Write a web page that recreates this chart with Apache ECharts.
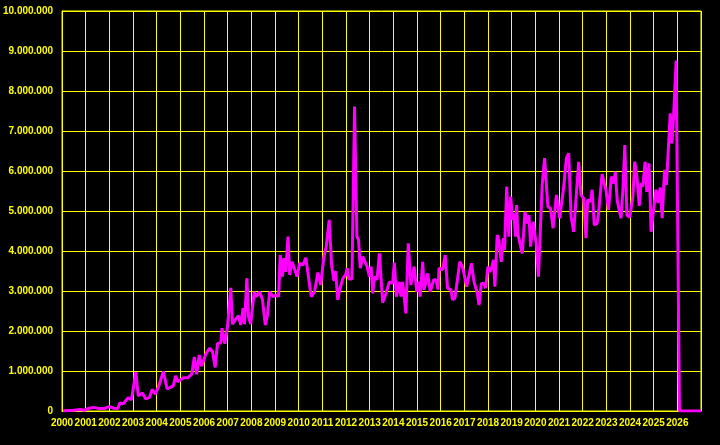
<!DOCTYPE html>
<html>
<head>
<meta charset="utf-8">
<script src="https://cdn.jsdelivr.net/npm/echarts@6/dist/echarts.min.js"></script>
<style>
html,body{margin:0;padding:0;background:#000;}
#c{width:720px;height:445px;}
</style>
</head>
<body>
<div id="c"></div>
<script>
// Time in decimal years
var years = [
2000.04,2000.21,2000.51,2000.76,2000.97,2001.14,2001.35,2001.56,2001.77,2001.98,
2002.19,2002.36,2002.44,2002.59,2002.78,2002.93,2003.12,2003.22,2003.39,2003.54,
2003.69,2003.81,2003.94,2004.09,2004.28,2004.44,2004.70,2004.80,2004.89,2005.13,
2005.31,2005.48,2005.59,2005.69,2005.80,2005.90,2006.07,2006.23,2006.36,2006.47,
2006.57,2006.71,2006.76,2006.88,2006.99,2007.13,2007.20,2007.37,2007.46,2007.55,
2007.65,2007.71,2007.81,2007.88,2007.97,2008.12,2008.21,2008.35,2008.47,2008.59,
2008.68,2008.77,2008.92,2009.06,2009.15,2009.22,2009.31,2009.38,2009.45,2009.55,
2009.62,2009.72,2009.80,2009.93,2010.04,2010.18,2010.30,2010.38,2010.53,2010.67,
2010.81,2010.93,2011.06,2011.16,2011.29,2011.39,2011.49,2011.56,2011.65,2011.74,
2011.87,2011.98,2012.05,2012.12,2012.25,2012.36,2012.46,2012.53,2012.60,2012.71,
2012.78,2012.89,2012.99,2013.06,2013.13,2013.20,2013.31,2013.41,2013.55,2013.69,
2013.83,2013.97,2014.04,2014.13,2014.25,2014.32,2014.39,2014.53,2014.63,2014.74,
2014.88,2014.99,2015.09,2015.13,2015.24,2015.30,2015.45,2015.56,2015.70,2015.80,
2015.89,2015.93,2016.08,2016.19,2016.29,2016.43,2016.50,2016.60,2016.68,2016.81,
2016.92,2016.99,2017.10,2017.20,2017.30,2017.41,2017.55,2017.62,2017.72,2017.83,
2017.90,2018.00,2018.08,2018.15,2018.23,2018.29,2018.39,2018.46,2018.56,2018.65,
2018.70,2018.79,2018.88,2018.96,2019.03,2019.09,2019.17,2019.21,2019.26,2019.35,
2019.45,2019.56,2019.66,2019.73,2019.80,2019.91,2019.97,2020.05,2020.13,2020.29,
2020.39,2020.53,2020.64,2020.75,2020.89,2021.03,2021.20,2021.31,2021.41,2021.51,
2021.62,2021.76,2021.83,2021.93,2022.04,2022.14,2022.21,2022.33,2022.40,2022.49,
2022.61,2022.67,2022.75,2022.82,2022.89,2022.99,2023.09,2023.21,2023.31,2023.38,
2023.46,2023.52,2023.62,2023.70,2023.78,2023.87,2023.99,2024.05,2024.12,2024.20,
2024.29,2024.39,2024.47,2024.54,2024.64,2024.71,2024.80,2024.85,2024.89,2024.99,
2025.10,2025.18,2025.28,2025.36,2025.46,2025.54,2025.61,2025.70,2025.77,2025.84,
2025.95,2026.09,2027.00
];
var values = [
0,10000,20000,40000,20000,70000,90000,60000,60000,110000,
70000,60000,200000,180000,330000,280000,970000,380000,450000,300000,
340000,540000,420000,630000,990000,550000,630000,880000,730000,830000,
830000,920000,1350000,920000,1400000,1120000,1420000,1570000,1480000,1090000,
1690000,1700000,2070000,1680000,2100000,3080000,2170000,2320000,2380000,2150000,
2570000,2170000,3320000,2360000,2170000,2980000,2860000,2980000,2780000,2150000,
2400000,2980000,2860000,2900000,2860000,3900000,3360000,3820000,3480000,4360000,
3400000,3730000,3780000,3360000,3690000,3650000,3830000,3790000,2860000,2980000,
3460000,3150000,3840000,4100000,4780000,3650000,3250000,3500000,2780000,3050000,
3320000,3400000,3570000,3300000,3300000,7610000,4360000,4280000,3570000,3860000,
3900000,3610000,3360000,3610000,2940000,3360000,3280000,3940000,2710000,2940000,
3230000,3190000,3710000,2860000,3230000,2860000,3230000,2440000,4190000,3150000,
3610000,2980000,3230000,2860000,3730000,3030000,3440000,2980000,3280000,3280000,
3030000,3570000,3530000,3900000,3070000,3030000,2780000,2820000,2780000,3730000,
3610000,3650000,3110000,3400000,3690000,3230000,2940000,2650000,3190000,3190000,
3070000,3610000,3480000,3570000,3780000,3110000,4400000,4280000,3730000,4320000,
4030000,5610000,4360000,5360000,4780000,4940000,4360000,5150000,4440000,4190000,
3940000,4980000,4690000,4900000,4110000,4730000,4780000,4110000,3360000,5650000,
6320000,5110000,5070000,4570000,5400000,4820000,5610000,6320000,6440000,4860000,
4480000,5650000,6230000,5400000,5320000,4320000,5280000,5230000,5530000,4650000,
4690000,4940000,4940000,5920000,5940000,5500000,5030000,5860000,5690000,5980000,
5260000,5280000,4820000,5530000,6650000,4900000,4840000,4860000,5360000,6230000,
5860000,5130000,5690000,5610000,6230000,5480000,6190000,5360000,4480000,5000000,
5530000,5200000,5590000,4820000,6030000,5650000,5670000,7440000,6690000,7360000,
8760000,0,0
];
var yMin = 0, yMax = 10000000, yStep = 1000000;
var xMin = 2000, xMax = 2027, xStep = 1;

function dots(v){ return String(v).replace(/\B(?=(\d{3})+(?!\d))/g, '.'); }

var chart = echarts.init(document.getElementById('c'), null, {renderer:'canvas'});
var yellow = '#ffff00';
chart.setOption({
  backgroundColor: '#000000',
  animation: false,
  grid: {left: 60, right: 19, top: 11, bottom: 34, containLabel: false, show: true, borderColor: yellow, borderWidth: 1},
  xAxis: {
    type: 'value', min: xMin, max: xMax, interval: xStep,
    axisLine: {show: true, lineStyle: {color: yellow, width: 1}},
    axisTick: {show: false},
    splitLine: {show: true, lineStyle: {color: yellow, width: 1}},
    axisLabel: {color: yellow, fontFamily: 'Liberation Sans, Arial, sans-serif', fontWeight: 'bold', fontSize: 10, margin: 7,
      showMaxLabel: false, formatter: function(v){ return String(v); }}
  },
  yAxis: {
    type: 'value', min: yMin, max: yMax, interval: yStep,
    axisLine: {show: true, lineStyle: {color: yellow, width: 1}},
    axisTick: {show: false},
    splitLine: {show: true, lineStyle: {color: yellow, width: 1}},
    axisLabel: {color: yellow, fontFamily: 'Liberation Sans, Arial, sans-serif', fontWeight: 'bold', fontSize: 10, margin: 9,
      formatter: function(v){ return dots(v); }}
  },
  series: [{
    type: 'line',
    data: years.map(function(t, i){ return [t, values[i]]; }),
    showSymbol: false,
    symbol: 'none',
    lineStyle: {color: '#ff00ff', width: 3},
    itemStyle: {color: '#ff00ff'}
  }]
});
</script>
</body>
</html>
